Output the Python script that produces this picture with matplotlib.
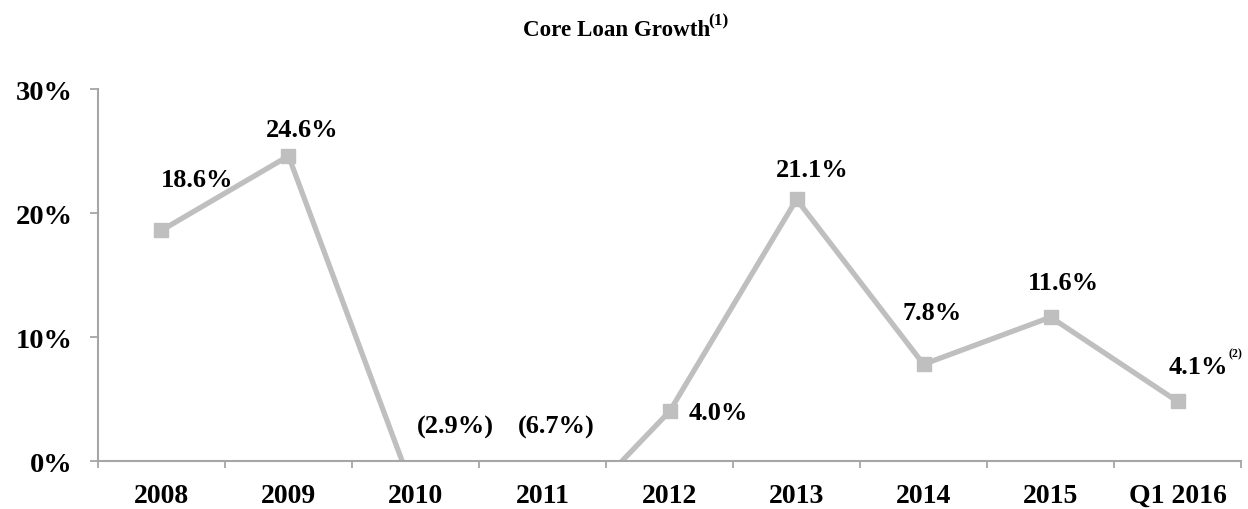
import matplotlib
matplotlib.use("Agg")
import matplotlib.pyplot as plt

periods = ["2008", "2009", "2010", "2011", "2012", "2013", "2014", "2015", "Q1 2016"]
growth = [18.6, 24.6, -2.9, -6.7, 4.0, 21.1, 7.8, 11.6, 4.8]
labels = ["18.6%", "24.6%", "(2.9%)", "(6.7%)", "4.0%", "21.1%", "7.8%", "11.6%", "4.1%"]
yticks = [0, 10, 20, 30]

# where each value label sits (data coords), style only
label_pos = [(0.28, 22.7), (1.11, 26.7), (2.31, 2.8), (3.11, 2.8), (4.38, 3.95),
             (5.12, 23.5), (6.07, 12.0), (7.10, 14.4), (8.16, 7.66)]

plt.rcParams['font.family'] = ['Liberation Serif', 'DejaVu Serif']
plt.rcParams['font.weight'] = 'bold'

fig = plt.figure(figsize=(12.48, 5.1), dpi=100)
ax = fig.add_axes([0.0785, 0.0941, 0.916, 0.7294])

x = list(range(len(periods)))
ax.plot(x, growth, color='#BFBFBF', lw=3.8, marker='s', ms=9.5, clip_on=True)

ax.set_xlim(-0.5, len(periods) - 0.5)
ax.set_ylim(0, 30)

for (lx, ly), txt in zip(label_pos, labels):
    ax.text(lx, ly, txt, ha='center', va='center', fontsize=19, fontweight='bold')
# footnote marker on last label
ax.text(8.40, 8.7, "(2)", ha='left', va='center', fontsize=8.5, fontweight='bold')

ax.set_xticks(x)
ax.set_xticklabels(periods, fontsize=20, fontweight='bold')
ax.set_xticks([i - 0.5 for i in range(len(periods) + 1)], minor=True)
ax.tick_params(axis='x', which='major', length=0, pad=16)
ax.tick_params(axis='x', which='minor', length=5, width=1.3, color='#A6A6A6', direction='out')

ax.set_yticks(yticks)
ax.set_yticklabels([f"{v}%" for v in yticks], fontsize=20.5, fontweight='bold')
ax.tick_params(axis='y', length=6, width=1.3, color='#A6A6A6', direction='out', pad=12)

for s in ['top', 'right']:
    ax.spines[s].set_visible(False)
for s in ['left', 'bottom']:
    ax.spines[s].set_color('#A6A6A6')
    ax.spines[s].set_linewidth(1.5)

fig.text(0.569, 0.941, "Core Loan Growth", ha='right', va='center', fontsize=16.6, fontweight='bold')
fig.text(0.5675, 0.958, "(1)", ha='left', va='center', fontsize=12.5, fontweight='bold')

fig.savefig("out.png", dpi=100)
